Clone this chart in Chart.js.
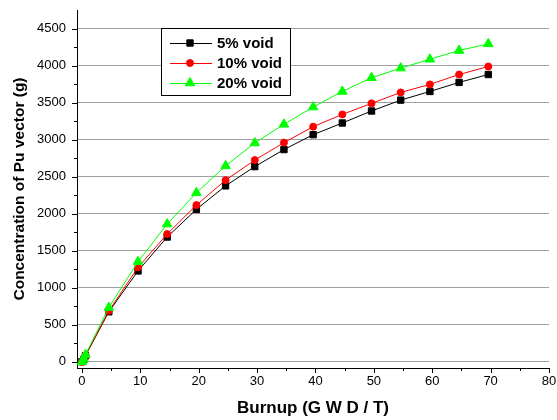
<!DOCTYPE html>
<html>
<head>
<meta charset="utf-8">
<script src="https://cdn.jsdelivr.net/npm/chart.js@4/dist/chart.umd.min.js"></script>
<style>
  body { margin: 0; background: #fff; }
  #myChart { display: block; }
</style>
</head>
<body>
<canvas id="myChart" width="557" height="420"></canvas>
<script>
// Data

var burnup = [0, 0.3, 0.6, 4.6, 9.6, 14.6, 19.6, 24.6, 29.6, 34.6, 39.6, 44.6, 49.6, 54.6, 59.6, 64.6, 69.6];
var void5 = [0, 30, 80, 674, 1226, 1684, 2057, 2375, 2635, 2865, 3066, 3224, 3386, 3533, 3650, 3772, 3879];
var void10 = [0, 32, 85, 687, 1275, 1724, 2115, 2452, 2723, 2959, 3174, 3340, 3489, 3637, 3745, 3879, 3987];
var void20 = [0, 35, 95, 731, 1351, 1859, 2281, 2645, 2954, 3206, 3439, 3650, 3835, 3965, 4085, 4203, 4293];
var xTicks = [0, 10, 20, 30, 40, 50, 60, 70, 80];
var yTicks = [0, 500, 1000, 1500, 2000, 2500, 3000, 3500, 4000, 4500];

var FONT = "'Liberation Sans', Arial, sans-serif";

function points(ys) {
  return ys.map(function(y, i) { return {x: burnup[i], y: y}; });
}

// draw a marker (uses Chart.js helper when available)
function marker(ctx, style, r, x, y, color) {
  ctx.save();
  ctx.fillStyle = color;
  ctx.strokeStyle = color;
  ctx.lineWidth = 1;
  if (Chart.helpers && Chart.helpers.drawPoint) {
    Chart.helpers.drawPoint(ctx, {pointStyle: style, radius: r, borderWidth: 1}, x, y);
  } else {
    ctx.beginPath();
    if (style === 'rect') {
      var s = r * Math.SQRT1_2;
      ctx.rect(x - s, y - s, 2 * s, 2 * s);
    } else if (style === 'triangle') {
      ctx.moveTo(x, y - r);
      ctx.lineTo(x + r * 0.866, y + r / 2);
      ctx.lineTo(x - r * 0.866, y + r / 2);
      ctx.closePath();
    } else {
      ctx.arc(x, y, r, 0, Math.PI * 2);
    }
    ctx.fill();
    ctx.stroke();
  }
  ctx.restore();
}

// no extra label padding, the layout padding decides the plot box
function noPad(scale) {
  scale.paddingLeft = 0;
  scale.paddingRight = 0;
  scale.paddingTop = 0;
  scale.paddingBottom = 0;
}

// Ticks outside the axes + boxed legend

var extras = {
  id: 'extras',
  afterDraw: function(chart) {
    var ctx = chart.ctx;
    var xs = chart.scales.x;
    var ys = chart.scales.y;
    var area = chart.chartArea;

    ctx.save();
    ctx.strokeStyle = '#000';
    ctx.lineWidth = 1;
    ctx.beginPath();
    for (var v = 0; v <= 80; v += 5) {
      var px = Math.round(xs.getPixelForValue(v)) + 0.5;
      var len = (v % 10 === 0) ? 5 : 3;
      ctx.moveTo(px, area.bottom);
      ctx.lineTo(px, area.bottom + len);
    }
    for (var w = 0; w <= 4500; w += 250) {
      var py = Math.round(ys.getPixelForValue(w)) + 0.5;
      var l2 = (w % 500 === 0) ? 5 : 3;
      ctx.moveTo(area.left, py);
      ctx.lineTo(area.left - l2, py);
    }
    ctx.stroke();

    // legend
    var bx = 161.5, by = 28.5, bw = 129, bh = 67;
    ctx.fillStyle = '#fff';
    ctx.fillRect(bx, by, bw, bh);
    ctx.strokeStyle = '#000';
    ctx.strokeRect(bx, by, bw, bh);

    ctx.font = 'bold 15px ' + FONT;
    ctx.textBaseline = 'middle';
    ctx.textAlign = 'left';
    chart.data.datasets.forEach(function(ds, i) {
      var rowY = 43 + i * 20;
      ctx.strokeStyle = ds.borderColor;
      ctx.lineWidth = 1;
      ctx.beginPath();
      ctx.moveTo(170, rowY + 0.5);
      ctx.lineTo(212, rowY + 0.5);
      ctx.stroke();
      marker(ctx, ds.pointStyle, ds.pointRadius, 190, rowY, ds.borderColor);
      ctx.fillStyle = '#000';
      ctx.fillText(ds.label, 217, rowY + 1);
    });
    ctx.restore();
  }
};

// Graph

var ctx = document.getElementById('myChart').getContext('2d');

var chart = new Chart(ctx, {
  type: 'line',
  data: {
    datasets: [{
      label: '5% void',
      data: points(void5),
      borderColor: '#000000',
      backgroundColor: '#000000',
      pointStyle: 'rect',
      pointRadius: 4.5,
      order: 2
    },
    {
      label: '10% void',
      data: points(void10),
      borderColor: '#ff0000',
      backgroundColor: '#ff0000',
      pointStyle: 'circle',
      pointRadius: 3.5,
      order: 1
    },
    {
      label: '20% void',
      data: points(void20),
      borderColor: '#00ff00',
      backgroundColor: '#00ff00',
      pointStyle: 'triangle',
      pointRadius: 5.5,
      order: 0
    }]
  },
  options: {
    responsive: false,
    animation: false,
    devicePixelRatio: 1,
    layout: { padding: { left: 0, top: 10, right: 8, bottom: 0 } },
    elements: {
      line: { borderWidth: 1, tension: 0 },
      point: { borderWidth: 1, hoverRadius: 4 }
    },
    plugins: {
      legend: { display: false },
      tooltip: { enabled: false }
    },
    scales: {
      x: {
        type: 'linear',
        min: -0.85,
        max: 80,
        afterBuildTicks: function(scale) {
          scale.ticks = xTicks.map(function(v) { return {value: v}; });
        },
        afterFit: function(scale) { scale.height = 52; noPad(scale); },
        grid: { display: false, drawTicks: false },
        border: { display: true, color: '#000', width: 1 },
        ticks: {
          color: '#000',
          padding: 6,
          maxRotation: 0,
          font: { family: FONT, size: 13 },
          callback: function(v) { return String(v); }
        },
        title: {
          display: true,
          text: 'Burnup (G W D / T)',
          color: '#000',
          padding: { top: 0, bottom: 1 },
          font: { family: FONT, size: 17, weight: 'bold' }
        }
      },
      y: {
        type: 'linear',
        min: -85,
        max: 4750,
        afterBuildTicks: function(scale) {
          scale.ticks = yTicks.map(function(v) { return {value: v}; });
        },
        afterFit: function(scale) { scale.width = 77; noPad(scale); },
        grid: { color: '#a0a0a0', lineWidth: 1, drawTicks: false },
        border: { display: true, color: '#000', width: 1 },
        ticks: {
          color: '#000',
          padding: 11,
          font: { family: FONT, size: 13 },
          callback: function(v) { return String(v); }
        },
        title: {
          display: true,
          text: 'Concentration of Pu vector (g)',
          color: '#000',
          padding: { top: 10, bottom: 0 },
          font: { family: FONT, size: 15.5, weight: 'bold' }
        }
      }
    }
  },
  plugins: [extras]
});
</script>
</body>
</html>
